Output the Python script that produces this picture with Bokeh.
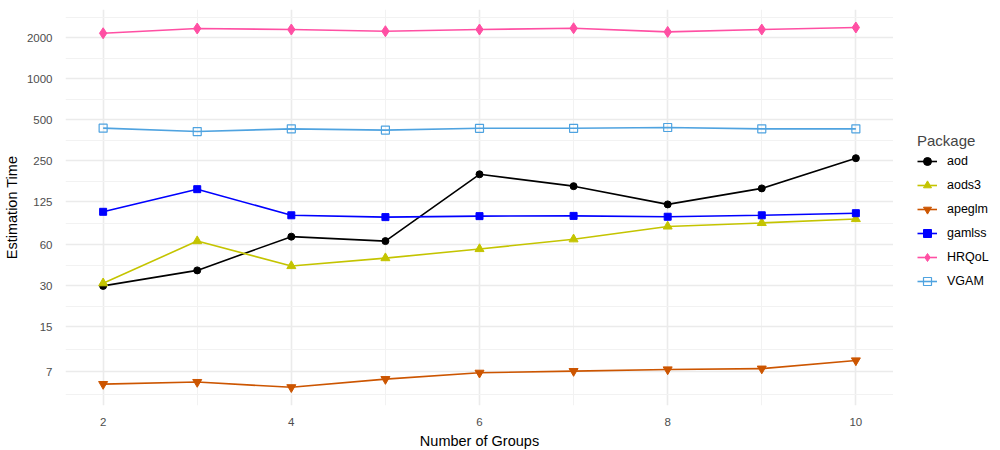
import numpy as np
from bokeh.plotting import figure
from bokeh.layouts import row
from bokeh.models import FixedTicker, Legend, LegendItem, Range1d
from bokeh.embed import file_html
from bokeh.resources import INLINE

groups = [2, 3, 4, 5, 6, 7, 8, 9, 10]
aod = [30, 39, 69, 64, 198, 162, 119, 156, 260]
aods3 = [31.4, 64, 42, 48, 56, 66, 82, 87, 93]
apeglm = [5.7, 5.9, 5.4, 6.2, 6.9, 7.1, 7.3, 7.4, 8.5]
gamlss = [105, 154, 99, 96, 97.6, 98, 96.6, 99, 102.6]
hrqol = [2150, 2330, 2290, 2225, 2290, 2340, 2200, 2290, 2370]
vgam = [432, 408, 427, 418, 431, 431, 437, 427, 427]

y_ticks = [7, 15, 30, 60, 125, 250, 500, 1000, 2000]
x_ticks = [2, 4, 6, 8, 10]

series = [
    ("aod", aod, "#000000", "circle", 7, True),
    ("aods3", aods3, "#C4C400", "triangle", 9, True),
    ("apeglm", apeglm, "#CC5500", "inverted_triangle", 9, True),
    ("gamlss", gamlss, "#0000FF", "square", 7, True),
    ("HRQoL", hrqol, "#FF4FA3", "diamond", 11, True),
    ("VGAM", vgam, "#4FA3E0", "square", 8, False),
]

# minor grid positions at geometric midpoints (like ggplot minor breaks)
yt = np.array(y_ticks, dtype=float)
mids = list(np.sqrt(yt[:-1] * yt[1:]))
minor_y = [yt[0] / np.sqrt(yt[1] / yt[0])] + mids + [yt[-1] * np.sqrt(yt[-1] / yt[-2])]

p = figure(
    frame_width=828, frame_height=396,
    y_axis_type="log",
    x_range=Range1d(1.6, 10.4),
    y_range=Range1d(3.97, 3213),
    output_backend="svg", toolbar_location=None,
    min_border_left=57, min_border_top=9, min_border_bottom=40, min_border_right=0,
)
p.background_fill_color = "white"
p.border_fill_color = "white"
p.outline_line_color = None

p.xaxis.ticker = FixedTicker(ticks=x_ticks, minor_ticks=[3, 5, 7, 9])
p.yaxis.ticker = FixedTicker(ticks=y_ticks, minor_ticks=minor_y)
p.yaxis.major_label_overrides = {t: str(t) for t in y_ticks}

for ax in (p.xaxis, p.yaxis):
    ax.axis_line_color = None
    ax.major_tick_line_color = None
    ax.minor_tick_line_color = None
    ax.major_label_text_font = "Liberation Sans"
    ax.major_label_text_font_size = "11.5px"
    ax.major_label_text_color = "#4D4D4D"
    ax.axis_label_text_font = "Liberation Sans"
    ax.axis_label_text_font_size = "14.5px"
    ax.axis_label_text_font_style = "normal"
    ax.axis_label_text_color = "#000000"
p.xaxis.axis_label = "Number of Groups"
p.yaxis.axis_label = "Estimation Time"
p.xaxis.major_label_standoff = 6
p.xaxis.axis_label_standoff = 4
p.yaxis.major_label_standoff = 7
p.yaxis.axis_label_standoff = 4

for g in (p.xgrid, p.ygrid):
    g.grid_line_color = "#EBEBEB"
    g.grid_line_width = 1.6
    g.minor_grid_line_color = "#F2F2F2"
    g.minor_grid_line_width = 1

# second, axis-less figure that only holds the legend
pl = figure(
    width=99, height=445,
    x_range=Range1d(100, 101), y_range=Range1d(100, 101),
    x_axis_location=None, y_axis_location=None,
    output_backend="svg", toolbar_location=None,
    min_border=0,
)
pl.grid.visible = False
pl.outline_line_color = None
pl.background_fill_color = "white"
pl.border_fill_color = "white"


def draw(fig, vals, color, marker, size, filled):
    r1 = fig.line(groups, vals, line_color=color, line_width=1.6)
    if filled:
        r2 = fig.scatter(groups, vals, marker=marker, size=size, fill_color=color, line_color=color)
    else:
        r2 = fig.scatter(groups, vals, marker=marker, size=size, fill_color="white",
                         fill_alpha=0, line_color=color, line_width=1.2)
    return r1, r2


items = []
for name, vals, color, marker, size, filled in series:
    draw(p, vals, color, marker, size, filled)
    r1, r2 = draw(pl, vals, color, marker, size, filled)
    items.append(LegendItem(label=name, renderers=[r1, r2]))

legend = Legend(items=items, location=(24, 108))
legend.title = "Package"
legend.title_text_font = "Liberation Sans"
legend.title_text_font_size = "15px"
legend.title_text_font_style = "normal"
legend.title_standoff = 2
legend.label_text_font = "Liberation Sans"
legend.label_text_font_size = "12.5px"
legend.label_text_color = "#000000"
legend.glyph_width = 20
legend.glyph_height = 20
legend.spacing = 4
legend.label_standoff = 10
legend.border_line_color = None
legend.background_fill_alpha = 0
legend.margin = 0
legend.padding = 0
pl.add_layout(legend, "center")

layout = row(p, pl, spacing=0)
open("out.html", "w").write(file_html(layout, INLINE))
